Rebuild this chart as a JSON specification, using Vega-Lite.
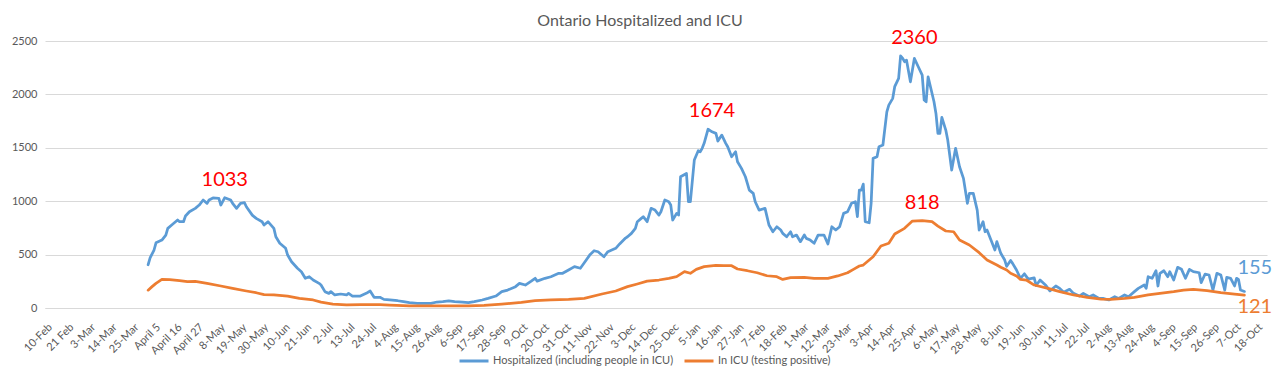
{
  "$schema": "https://vega.github.io/schema/vega-lite/v6.json",
  "autosize": {"type": "none"},
  "width": 1222,
  "height": 267,
  "padding": {"left": 45, "top": 41, "right": 14, "bottom": 72},
  "background": "#FFFFFF",
  "title": {"text": "Ontario Hospitalized and ICU", "font": "Lato", "fontSize": 16, "fontWeight": "normal", "color": "#595959", "anchor": "middle", "dx": -16, "offset": -1},
  "config": {
    "view": {"stroke": null},
    "axis": {"labelFont": "Lato", "labelColor": "#595959", "labelFontSize": 11, "gridColor": "#D9D9D9", "domainColor": "#D9D9D9", "ticks": false, "title": null},
    "legend": {"labelFont": "Lato", "labelColor": "#595959", "labelFontSize": 11, "labelLimit": 0}
  },
  "datasets": {
    "hosp": [
      {"date":"2020-04-02","value":405},{"date":"2020-04-03","value":470},{"date":"2020-04-05","value":543},{"date":"2020-04-06","value":610},{"date":"2020-04-09","value":636},{"date":"2020-04-11","value":683},{"date":"2020-04-12","value":746},{"date":"2020-04-14","value":777},{"date":"2020-04-17","value":824},{"date":"2020-04-18","value":808},{"date":"2020-04-20","value":808},{"date":"2020-04-21","value":861},{"date":"2020-04-23","value":901},{"date":"2020-04-26","value":933},{"date":"2020-04-28","value":964},{"date":"2020-04-30","value":1011},{"date":"2020-05-02","value":980},{"date":"2020-05-03","value":1011},{"date":"2020-05-05","value":1030},{"date":"2020-05-08","value":1027},{"date":"2020-05-09","value":964},{"date":"2020-05-11","value":1033},{"date":"2020-05-14","value":1011},{"date":"2020-05-15","value":980},{"date":"2020-05-17","value":933},{"date":"2020-05-19","value":980},{"date":"2020-05-21","value":986},{"date":"2020-05-22","value":948},{"date":"2020-05-25","value":870},{"date":"2020-05-27","value":839},{"date":"2020-05-30","value":808},{"date":"2020-05-31","value":777},{"date":"2020-06-02","value":808},{"date":"2020-06-05","value":746},{"date":"2020-06-06","value":667},{"date":"2020-06-08","value":606},{"date":"2020-06-11","value":559},{"date":"2020-06-12","value":496},{"date":"2020-06-14","value":433},{"date":"2020-06-17","value":372},{"date":"2020-06-19","value":340},{"date":"2020-06-21","value":278},{"date":"2020-06-23","value":293},{"date":"2020-06-25","value":262},{"date":"2020-06-28","value":231},{"date":"2020-06-29","value":215},{"date":"2020-07-01","value":153},{"date":"2020-07-03","value":137},{"date":"2020-07-04","value":153},{"date":"2020-07-06","value":122},{"date":"2020-07-09","value":131},{"date":"2020-07-12","value":122},{"date":"2020-07-13","value":137},{"date":"2020-07-15","value":112},{"date":"2020-07-19","value":112},{"date":"2020-07-22","value":137},{"date":"2020-07-24","value":159},{"date":"2020-07-26","value":100},{"date":"2020-07-29","value":100},{"date":"2020-07-31","value":81},{"date":"2020-08-03","value":75},{"date":"2020-08-07","value":68},{"date":"2020-08-10","value":59},{"date":"2020-08-13","value":50},{"date":"2020-08-17","value":44},{"date":"2020-08-20","value":44},{"date":"2020-08-24","value":44},{"date":"2020-08-27","value":56},{"date":"2020-08-30","value":59},{"date":"2020-09-02","value":66},{"date":"2020-09-05","value":59},{"date":"2020-09-09","value":56},{"date":"2020-09-12","value":50},{"date":"2020-09-15","value":59},{"date":"2020-09-19","value":75},{"date":"2020-09-22","value":90},{"date":"2020-09-26","value":112},{"date":"2020-09-29","value":153},{"date":"2020-10-02","value":168},{"date":"2020-10-06","value":200},{"date":"2020-10-08","value":231},{"date":"2020-10-11","value":215},{"date":"2020-10-14","value":252},{"date":"2020-10-16","value":278},{"date":"2020-10-17","value":252},{"date":"2020-10-21","value":278},{"date":"2020-10-24","value":293},{"date":"2020-10-28","value":325},{"date":"2020-10-30","value":325},{"date":"2020-11-02","value":356},{"date":"2020-11-05","value":387},{"date":"2020-11-08","value":372},{"date":"2020-11-10","value":424},{"date":"2020-11-13","value":502},{"date":"2020-11-15","value":536},{"date":"2020-11-17","value":527},{"date":"2020-11-20","value":480},{"date":"2020-11-22","value":527},{"date":"2020-11-26","value":559},{"date":"2020-11-28","value":600},{"date":"2020-12-01","value":655},{"date":"2020-12-02","value":667},{"date":"2020-12-04","value":699},{"date":"2020-12-06","value":746},{"date":"2020-12-07","value":808},{"date":"2020-12-09","value":839},{"date":"2020-12-10","value":855},{"date":"2020-12-12","value":808},{"date":"2020-12-14","value":933},{"date":"2020-12-16","value":917},{"date":"2020-12-18","value":870},{"date":"2020-12-19","value":901},{"date":"2020-12-21","value":1011},{"date":"2020-12-23","value":995},{"date":"2020-12-24","value":964},{"date":"2020-12-25","value":824},{"date":"2020-12-27","value":886},{"date":"2020-12-28","value":870},{"date":"2020-12-29","value":1229},{"date":"2021-01-01","value":1260},{"date":"2021-01-02","value":995},{"date":"2021-01-03","value":995},{"date":"2021-01-05","value":1385},{"date":"2021-01-07","value":1472},{"date":"2021-01-08","value":1463},{"date":"2021-01-09","value":1495},{"date":"2021-01-10","value":1542},{"date":"2021-01-12","value":1674},{"date":"2021-01-14","value":1650},{"date":"2021-01-16","value":1635},{"date":"2021-01-17","value":1563},{"date":"2021-01-19","value":1619},{"date":"2021-01-21","value":1542},{"date":"2021-01-22","value":1510},{"date":"2021-01-24","value":1416},{"date":"2021-01-26","value":1463},{"date":"2021-01-27","value":1369},{"date":"2021-01-29","value":1307},{"date":"2021-01-31","value":1229},{"date":"2021-02-01","value":1167},{"date":"2021-02-02","value":1104},{"date":"2021-02-04","value":1073},{"date":"2021-02-05","value":995},{"date":"2021-02-07","value":917},{"date":"2021-02-10","value":933},{"date":"2021-02-11","value":855},{"date":"2021-02-12","value":777},{"date":"2021-02-14","value":714},{"date":"2021-02-16","value":761},{"date":"2021-02-18","value":730},{"date":"2021-02-19","value":699},{"date":"2021-02-21","value":667},{"date":"2021-02-23","value":714},{"date":"2021-02-24","value":667},{"date":"2021-02-26","value":683},{"date":"2021-02-28","value":621},{"date":"2021-03-02","value":683},{"date":"2021-03-03","value":652},{"date":"2021-03-05","value":636},{"date":"2021-03-07","value":606},{"date":"2021-03-09","value":683},{"date":"2021-03-12","value":683},{"date":"2021-03-14","value":599},{"date":"2021-03-16","value":761},{"date":"2021-03-18","value":730},{"date":"2021-03-20","value":761},{"date":"2021-03-22","value":886},{"date":"2021-03-24","value":901},{"date":"2021-03-26","value":980},{"date":"2021-03-28","value":995},{"date":"2021-03-29","value":855},{"date":"2021-03-30","value":1104},{"date":"2021-03-31","value":1104},{"date":"2021-04-01","value":1160},{"date":"2021-04-02","value":808},{"date":"2021-04-04","value":798},{"date":"2021-04-05","value":980},{"date":"2021-04-06","value":1401},{"date":"2021-04-08","value":1416},{"date":"2021-04-09","value":1510},{"date":"2021-04-11","value":1526},{"date":"2021-04-13","value":1837},{"date":"2021-04-14","value":1900},{"date":"2021-04-16","value":1963},{"date":"2021-04-17","value":2072},{"date":"2021-04-19","value":2150},{"date":"2021-04-20","value":2360},{"date":"2021-04-21","value":2340},{"date":"2021-04-22","value":2306},{"date":"2021-04-23","value":2321},{"date":"2021-04-25","value":2118},{"date":"2021-04-27","value":2337},{"date":"2021-04-29","value":2259},{"date":"2021-05-01","value":2181},{"date":"2021-05-02","value":1947},{"date":"2021-05-03","value":1931},{"date":"2021-05-04","value":2165},{"date":"2021-05-07","value":1931},{"date":"2021-05-08","value":1822},{"date":"2021-05-09","value":1635},{"date":"2021-05-10","value":1635},{"date":"2021-05-11","value":1785},{"date":"2021-05-13","value":1666},{"date":"2021-05-14","value":1572},{"date":"2021-05-16","value":1292},{"date":"2021-05-18","value":1495},{"date":"2021-05-20","value":1323},{"date":"2021-05-22","value":1214},{"date":"2021-05-24","value":980},{"date":"2021-05-25","value":1073},{"date":"2021-05-27","value":1073},{"date":"2021-05-29","value":917},{"date":"2021-05-30","value":730},{"date":"2021-06-01","value":808},{"date":"2021-06-02","value":714},{"date":"2021-06-03","value":730},{"date":"2021-06-05","value":636},{"date":"2021-06-07","value":543},{"date":"2021-06-08","value":621},{"date":"2021-06-10","value":512},{"date":"2021-06-12","value":449},{"date":"2021-06-13","value":390},{"date":"2021-06-15","value":445},{"date":"2021-06-16","value":418},{"date":"2021-06-18","value":356},{"date":"2021-06-20","value":278},{"date":"2021-06-22","value":320},{"date":"2021-06-24","value":270},{"date":"2021-06-27","value":282},{"date":"2021-06-28","value":210},{"date":"2021-06-30","value":262},{"date":"2021-07-03","value":210},{"date":"2021-07-05","value":160},{"date":"2021-07-08","value":206},{"date":"2021-07-10","value":184},{"date":"2021-07-12","value":147},{"date":"2021-07-15","value":175},{"date":"2021-07-17","value":137},{"date":"2021-07-20","value":112},{"date":"2021-07-22","value":137},{"date":"2021-07-25","value":106},{"date":"2021-07-27","value":122},{"date":"2021-07-30","value":90},{"date":"2021-08-01","value":90},{"date":"2021-08-04","value":75},{"date":"2021-08-07","value":106},{"date":"2021-08-09","value":90},{"date":"2021-08-12","value":122},{"date":"2021-08-14","value":106},{"date":"2021-08-17","value":153},{"date":"2021-08-19","value":184},{"date":"2021-08-22","value":215},{"date":"2021-08-23","value":184},{"date":"2021-08-24","value":293},{"date":"2021-08-26","value":278},{"date":"2021-08-28","value":349},{"date":"2021-08-29","value":206},{"date":"2021-08-30","value":325},{"date":"2021-09-01","value":349},{"date":"2021-09-03","value":293},{"date":"2021-09-04","value":340},{"date":"2021-09-06","value":262},{"date":"2021-09-08","value":381},{"date":"2021-09-10","value":362},{"date":"2021-09-12","value":278},{"date":"2021-09-14","value":362},{"date":"2021-09-16","value":340},{"date":"2021-09-19","value":330},{"date":"2021-09-20","value":237},{"date":"2021-09-22","value":318},{"date":"2021-09-24","value":309},{"date":"2021-09-26","value":168},{"date":"2021-09-28","value":325},{"date":"2021-09-30","value":309},{"date":"2021-10-02","value":168},{"date":"2021-10-03","value":287},{"date":"2021-10-05","value":278},{"date":"2021-10-07","value":206},{"date":"2021-10-08","value":278},{"date":"2021-10-09","value":268},{"date":"2021-10-10","value":168},{"date":"2021-10-12","value":155}
    ],
    "icu": [
      {"date":"2020-04-02","value":167},{"date":"2020-04-04","value":200},{"date":"2020-04-06","value":231},{"date":"2020-04-09","value":268},{"date":"2020-04-13","value":265},{"date":"2020-04-18","value":256},{"date":"2020-04-22","value":246},{"date":"2020-04-26","value":250},{"date":"2020-05-02","value":231},{"date":"2020-05-09","value":206},{"date":"2020-05-15","value":184},{"date":"2020-05-22","value":159},{"date":"2020-05-27","value":143},{"date":"2020-05-31","value":125},{"date":"2020-06-05","value":122},{"date":"2020-06-12","value":112},{"date":"2020-06-18","value":90},{"date":"2020-06-25","value":75},{"date":"2020-06-29","value":55},{"date":"2020-07-05","value":37},{"date":"2020-07-12","value":30},{"date":"2020-07-19","value":32},{"date":"2020-07-29","value":32},{"date":"2020-08-03","value":28},{"date":"2020-08-13","value":20},{"date":"2020-08-27","value":19},{"date":"2020-09-12","value":19},{"date":"2020-09-20","value":25},{"date":"2020-09-29","value":37},{"date":"2020-10-09","value":53},{"date":"2020-10-16","value":68},{"date":"2020-10-24","value":75},{"date":"2020-11-02","value":81},{"date":"2020-11-10","value":90},{"date":"2020-11-19","value":131},{"date":"2020-11-26","value":159},{"date":"2020-12-02","value":200},{"date":"2020-12-07","value":225},{"date":"2020-12-12","value":252},{"date":"2020-12-18","value":262},{"date":"2020-12-23","value":278},{"date":"2020-12-27","value":293},{"date":"2020-12-31","value":340},{"date":"2021-01-03","value":325},{"date":"2021-01-06","value":362},{"date":"2021-01-10","value":387},{"date":"2021-01-16","value":400},{"date":"2021-01-20","value":396},{"date":"2021-01-24","value":396},{"date":"2021-01-27","value":365},{"date":"2021-02-01","value":349},{"date":"2021-02-06","value":330},{"date":"2021-02-11","value":302},{"date":"2021-02-16","value":293},{"date":"2021-02-19","value":268},{"date":"2021-02-23","value":284},{"date":"2021-03-02","value":287},{"date":"2021-03-07","value":278},{"date":"2021-03-14","value":278},{"date":"2021-03-19","value":300},{"date":"2021-03-24","value":330},{"date":"2021-03-27","value":362},{"date":"2021-03-30","value":393},{"date":"2021-04-01","value":402},{"date":"2021-04-06","value":480},{"date":"2021-04-10","value":580},{"date":"2021-04-14","value":606},{"date":"2021-04-17","value":693},{"date":"2021-04-22","value":746},{"date":"2021-04-26","value":814},{"date":"2021-05-01","value":818},{"date":"2021-05-06","value":808},{"date":"2021-05-09","value":767},{"date":"2021-05-13","value":721},{"date":"2021-05-17","value":714},{"date":"2021-05-20","value":636},{"date":"2021-05-25","value":590},{"date":"2021-05-30","value":518},{"date":"2021-06-03","value":449},{"date":"2021-06-08","value":402},{"date":"2021-06-10","value":381},{"date":"2021-06-13","value":356},{"date":"2021-06-15","value":325},{"date":"2021-06-18","value":300},{"date":"2021-06-20","value":268},{"date":"2021-06-23","value":262},{"date":"2021-06-27","value":215},{"date":"2021-07-04","value":184},{"date":"2021-07-10","value":153},{"date":"2021-07-17","value":122},{"date":"2021-07-24","value":100},{"date":"2021-07-31","value":84},{"date":"2021-08-05","value":81},{"date":"2021-08-12","value":90},{"date":"2021-08-17","value":100},{"date":"2021-08-24","value":122},{"date":"2021-08-30","value":137},{"date":"2021-09-06","value":153},{"date":"2021-09-11","value":168},{"date":"2021-09-16","value":175},{"date":"2021-09-23","value":162},{"date":"2021-09-30","value":143},{"date":"2021-10-07","value":131},{"date":"2021-10-12","value":121}
    ],
    "peaks": [
      {"date":"2020-05-11","value":1033},{"date":"2021-01-14","value":1674},{"date":"2021-04-27","value":2360},{"date":"2021-05-01","value":818}
    ],
    "lastHosp": [{"date":"2021-10-12","value":155}],
    "lastIcu": [{"date":"2021-10-12","value":121}]
  },
  "encoding": {
    "x": {
      "field": "date", "type": "temporal",
      "scale": {"type": "utc", "domain": [{"year":2020,"month":2,"date":9,"hours":12,"utc":true},{"year":2021,"month":10,"date":23,"hours":12,"utc":true}]},
      "axis": {
        "grid": false, "domain": true, "labelAngle": -45, "labelPadding": 13, "labelOverlap": false, "labelBound": false,
        "values": [
          {"year":2020,"month":2,"date":10,"utc":true},{"year":2020,"month":2,"date":21,"utc":true},{"year":2020,"month":3,"date":3,"utc":true},{"year":2020,"month":3,"date":14,"utc":true},{"year":2020,"month":3,"date":25,"utc":true},{"year":2020,"month":4,"date":5,"utc":true},{"year":2020,"month":4,"date":16,"utc":true},{"year":2020,"month":4,"date":27,"utc":true},{"year":2020,"month":5,"date":8,"utc":true},{"year":2020,"month":5,"date":19,"utc":true},{"year":2020,"month":5,"date":30,"utc":true},{"year":2020,"month":6,"date":10,"utc":true},{"year":2020,"month":6,"date":21,"utc":true},{"year":2020,"month":7,"date":2,"utc":true},{"year":2020,"month":7,"date":13,"utc":true},{"year":2020,"month":7,"date":24,"utc":true},{"year":2020,"month":8,"date":4,"utc":true},{"year":2020,"month":8,"date":15,"utc":true},{"year":2020,"month":8,"date":26,"utc":true},{"year":2020,"month":9,"date":6,"utc":true},{"year":2020,"month":9,"date":17,"utc":true},{"year":2020,"month":9,"date":28,"utc":true},{"year":2020,"month":10,"date":9,"utc":true},{"year":2020,"month":10,"date":20,"utc":true},{"year":2020,"month":10,"date":31,"utc":true},{"year":2020,"month":11,"date":11,"utc":true},{"year":2020,"month":11,"date":22,"utc":true},{"year":2020,"month":12,"date":3,"utc":true},{"year":2020,"month":12,"date":14,"utc":true},{"year":2020,"month":12,"date":25,"utc":true},{"year":2021,"month":1,"date":5,"utc":true},{"year":2021,"month":1,"date":16,"utc":true},{"year":2021,"month":1,"date":27,"utc":true},{"year":2021,"month":2,"date":7,"utc":true},{"year":2021,"month":2,"date":18,"utc":true},{"year":2021,"month":3,"date":1,"utc":true},{"year":2021,"month":3,"date":12,"utc":true},{"year":2021,"month":3,"date":23,"utc":true},{"year":2021,"month":4,"date":3,"utc":true},{"year":2021,"month":4,"date":14,"utc":true},{"year":2021,"month":4,"date":25,"utc":true},{"year":2021,"month":5,"date":6,"utc":true},{"year":2021,"month":5,"date":17,"utc":true},{"year":2021,"month":5,"date":28,"utc":true},{"year":2021,"month":6,"date":8,"utc":true},{"year":2021,"month":6,"date":19,"utc":true},{"year":2021,"month":6,"date":30,"utc":true},{"year":2021,"month":7,"date":11,"utc":true},{"year":2021,"month":7,"date":22,"utc":true},{"year":2021,"month":8,"date":2,"utc":true},{"year":2021,"month":8,"date":13,"utc":true},{"year":2021,"month":8,"date":24,"utc":true},{"year":2021,"month":9,"date":4,"utc":true},{"year":2021,"month":9,"date":15,"utc":true},{"year":2021,"month":9,"date":26,"utc":true},{"year":2021,"month":10,"date":7,"utc":true},{"year":2021,"month":10,"date":18,"utc":true}
        ],
        "labelExpr": "utcyear(datum.value) == 2020 && utcmonth(datum.value) == 3 ? 'April ' + utcdate(datum.value) : (utcyear(datum.value) == 2020 && utcmonth(datum.value) == 1 && utcdate(datum.value) == 21 ? '21 Feb' : utcFormat(datum.value, '%-d-%b'))"
      }
    },
    "y": {
      "field": "value", "type": "quantitative",
      "scale": {"domain": [0, 2500], "nice": false},
      "axis": {"grid": true, "domain": false, "values": [0, 500, 1000, 1500, 2000, 2500], "format": "d", "labelPadding": 8}
    }
  },
  "layer": [
    {
      "data": {"name": "hosp"},
      "mark": {"type": "line", "strokeWidth": 2.75, "strokeJoin": "round", "strokeCap": "round"},
      "encoding": {
        "color": {
          "datum": "Hospitalized (including people in ICU)",
          "scale": {"domain": ["Hospitalized (including people in ICU)", "In ICU (testing positive)"], "range": ["#5B9BD5", "#ED7D31"]},
          "legend": {"title": null, "orient": "none", "direction": "horizontal", "legendX": 413, "legendY": 304, "symbolType": "stroke", "symbolSize": 841, "symbolStrokeWidth": 3, "labelOffset": 3, "columnPadding": 4, "labelLimit": 0}
        }
      }
    },
    {
      "data": {"name": "icu"},
      "mark": {"type": "line", "strokeWidth": 2.75, "strokeJoin": "round", "strokeCap": "round"},
      "encoding": {"color": {"datum": "In ICU (testing positive)"}}
    },
    {
      "data": {"name": "peaks"},
      "mark": {"type": "text", "font": "Lato", "fontSize": 20, "color": "#FF0000", "dy": -18, "align": "center", "baseline": "middle"},
      "encoding": {"text": {"field": "value", "type": "quantitative"}}
    },
    {
      "data": {"name": "lastHosp"},
      "mark": {"type": "text", "font": "Lato", "fontSize": 20, "color": "#5B9BD5", "dx": -7, "dy": -23, "align": "left", "baseline": "middle"},
      "encoding": {"text": {"field": "value", "type": "quantitative"}}
    },
    {
      "data": {"name": "lastIcu"},
      "mark": {"type": "text", "font": "Lato", "fontSize": 20, "color": "#ED7D31", "dx": -7, "dy": 12, "align": "left", "baseline": "middle"},
      "encoding": {"text": {"field": "value", "type": "quantitative"}}
    }
  ]
}
